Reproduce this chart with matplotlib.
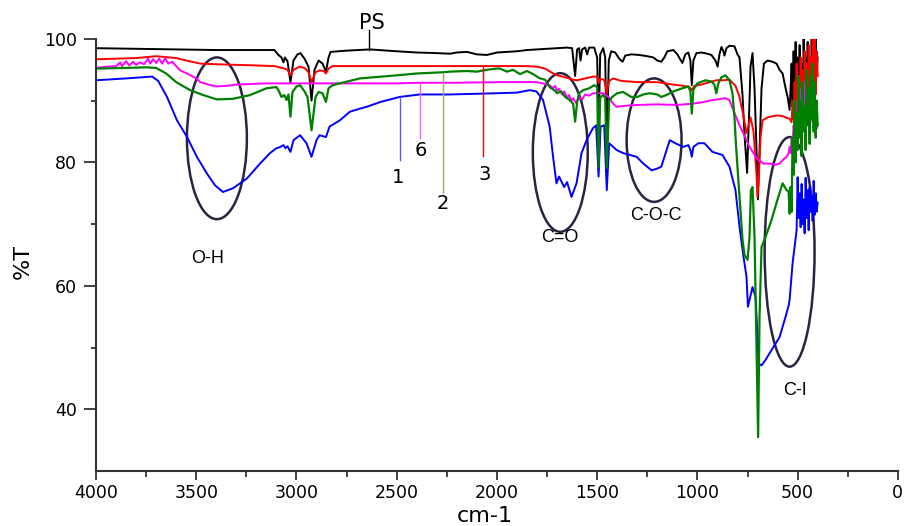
import numpy as np
import matplotlib
matplotlib.use("Agg")
from matplotlib import pyplot as plt
from matplotlib.patches import Ellipse
from matplotlib.ticker import MultipleLocator

plt.rcParams['font.family'] = ['Liberation Sans', 'DejaVu Sans']

# PS (black)
ps_wn = [4000, 3800, 3600, 3400, 3200, 3110, 3090, 3075, 3065, 3058, 3045, 3030, 3015, 2995, 2980, 2960,
         2940, 2925, 2910, 2890, 2870, 2853, 2840, 2830, 2750, 2634, 2500, 2400, 2300, 2235, 2200, 2150,
         2100, 2050, 2000, 1950, 1900, 1850, 1800, 1750, 1700, 1650, 1625, 1610, 1600, 1590, 1583, 1575,
         1560, 1550, 1540, 1515, 1500, 1493, 1485, 1470, 1460, 1452, 1442, 1430, 1410, 1390, 1373, 1360,
         1330, 1290, 1250, 1220, 1200, 1180, 1165, 1150, 1120, 1100, 1075, 1060, 1045, 1035, 1028, 1020,
         1005, 980, 950, 930, 910, 899, 890, 880, 870, 865, 855, 840, 815, 800, 790, 775, 765, 752, 742,
         735, 725, 715, 705, 698, 690, 680, 668, 650, 625, 605, 590, 575, 560, 550, 540,
         535, 530, 525, 520, 515, 510, 505, 500, 495, 490, 485, 480, 475, 470, 465, 460, 455, 450, 445,
         440, 435, 430, 425, 420, 415, 410, 405, 400]
ps_t = [98.5, 98.4, 98.3, 98.2, 98.2, 98.2, 97.4, 97.0, 96.2, 97.0, 96.4, 93.0, 96.5, 97.5, 97.7, 96.8,
        95.5, 90.0, 95.0, 96.5, 96.0, 94.7, 97.0, 97.9, 98.1, 98.3, 98.0, 97.8, 97.7, 97.6, 97.8, 97.9,
        97.5, 97.4, 97.8, 97.9, 98.0, 98.2, 98.3, 98.4, 98.5, 98.6, 98.5, 94.0, 98.3, 98.5, 96.5, 98.3,
        98.6, 97.5, 98.6, 98.6, 97.0, 84.0, 97.5, 98.5, 97.0, 82.0, 96.5, 98.0, 97.8, 96.8, 96.3, 97.3,
        97.5, 97.4, 97.2, 97.0, 96.5, 96.3, 97.0, 98.0, 98.2, 97.5, 96.1, 97.5, 97.8, 96.5, 92.5, 96.5,
        97.7, 97.8, 97.6, 97.4, 96.5, 95.5, 97.5, 98.7, 98.0, 97.3, 98.5, 98.9, 98.8, 97.5, 97.0, 91.0,
        84.5, 78.3, 88.0, 95.5, 97.7, 92.0, 82.0, 74.0, 82.0, 92.0, 96.0, 96.5, 96.3, 96.0, 95.0, 94.4,
        92.0, 90.6, 88.5,
        92, 96, 89, 98, 90, 99.5, 91, 97, 89, 99, 92, 96, 88.5, 100, 93, 97, 90, 99.5, 92,
        96, 89, 100, 93, 98, 91, 100, 94, 97]

# sample 3 (red)
s3_wn = [4000, 3800, 3700, 3600, 3550, 3480, 3400, 3200, 3110, 3085, 3060, 3045, 3030, 3015, 2985, 2960,
         2940, 2925, 2905, 2885, 2865, 2853, 2840, 2820, 2600, 2070, 1850, 1800, 1760, 1730, 1700, 1660,
         1620, 1600, 1560, 1520, 1500, 1493, 1485, 1465, 1452, 1440, 1420, 1380, 1300, 1200, 1120, 1070,
         1040, 1028, 1015, 980, 940, 905, 870, 840, 810, 790, 770, 755, 745, 735, 720, 705, 700, 693, 685,
         675, 650, 620, 600, 575, 555, 540, 530,
         525, 520, 515, 510, 505, 500, 495, 490, 485, 480, 475, 470, 465, 460, 455, 450, 445, 440, 435,
         430, 425, 420, 415, 410, 405, 400]
s3_t = [96.7, 96.9, 97.2, 96.9, 96.5, 96.0, 95.9, 95.7, 95.6, 95.4, 95.2, 95.0, 94.1, 95.0, 95.5, 95.3,
        94.6, 93.0, 94.6, 94.9, 94.8, 94.4, 95.2, 95.6, 95.6, 95.6, 95.6, 95.5, 95.2, 94.6, 94.1, 93.8,
        93.4, 93.3, 93.6, 93.9, 93.9, 92.8, 93.5, 93.4, 91.2, 93.2, 93.6, 93.2, 93.0, 93.0, 92.6, 92.4,
        92.2, 91.7, 92.4, 92.6, 93.0, 93.3, 93.3, 93.4, 92.4, 90.6, 87.5, 84.7, 86.0, 87.3, 85.0, 78.0,
        74.4, 78.0, 84.0, 86.8, 87.3, 87.5, 87.6, 87.5, 87.2, 87.1, 86.5,
        90, 87, 93, 88, 96, 89, 94, 88.5, 97, 90, 95, 88, 98, 91, 96, 89, 99, 92, 97,
        90, 100, 93, 100, 91, 98, 94]

# sample 6 (magenta)
s6_wn = [4000, 3950, 3900, 3880, 3870, 3850, 3835, 3815, 3800, 3780, 3760, 3740, 3730, 3715, 3700, 3685,
         3670, 3655, 3640, 3620, 3600, 3580, 3540, 3500, 3480, 3440, 3400, 3350, 3300, 3150, 3030, 2500,
         2385, 2200, 2000, 1850, 1800, 1760, 1737, 1720, 1710, 1700, 1690, 1675, 1665, 1650, 1640, 1630,
         1620, 1605, 1590, 1575, 1560, 1540, 1520, 1500, 1470, 1440, 1420, 1403, 1350, 1300, 1200, 1100,
         1030, 980, 940, 900, 860, 840, 815, 790, 775, 755, 740, 720, 700, 670, 640, 610, 590, 570, 555, 545,
         540, 535, 530, 525, 520, 515, 510, 505, 500, 495, 490, 485, 480, 475, 470, 465, 460, 455, 450,
         445, 440, 435, 430, 425, 420, 415, 410, 405, 400]
s6_t = [95.3, 95.5, 95.6, 96.2, 95.6, 96.4, 95.7, 96.3, 95.8, 96.2, 95.9, 96.8, 96.0, 96.7, 96.1, 96.8,
        96.0, 96.9, 96.0, 96.3, 95.6, 94.9, 94.3, 93.6, 93.0, 92.6, 92.3, 92.4, 92.6, 92.8, 92.8, 92.8,
        92.9, 92.9, 93.0, 93.0, 93.0, 92.7, 92.5, 92.0, 92.4, 91.6, 91.9, 91.0, 91.5, 90.5, 90.9, 90.0,
        90.4, 89.6, 90.6, 90.2, 91.0, 90.8, 91.2, 91.2, 91.2, 90.5, 89.5, 89.0, 89.2, 89.3, 89.4, 89.3,
        89.5, 89.7, 90.0, 90.2, 90.4, 90.1, 88.0, 86.0, 85.0, 83.6, 82.5, 81.5, 80.5, 79.8, 79.8, 79.6,
        79.8, 80.5, 80.9, 81.5,
        82.5, 81.5, 84, 83, 86, 84.5, 88, 86, 90, 87, 91.5, 88, 92, 89, 93, 88.5, 92.5, 89, 92,
        88, 91, 87.5, 90, 86.5, 89, 86, 88, 85.5, 86]

# sample 2 (green)
s2_wn = [4000, 3850, 3750, 3700, 3650, 3600, 3531, 3465, 3397, 3317, 3232, 3150, 3100,
         3090, 3075, 3060, 3050, 3040, 3030, 3020, 3000, 2982, 2960, 2945, 2925, 2905, 2890, 2870, 2853,
         2840, 2820, 2784, 2684, 2500, 2400, 2270, 2235, 2150, 2100, 2050, 2000, 1985, 1950, 1920, 1885,
         1850, 1820, 1785, 1760, 1737, 1710, 1700, 1680, 1660, 1637, 1620, 1610, 1600, 1590, 1570, 1540,
         1515, 1500, 1493, 1485, 1470, 1460, 1452, 1440, 1425, 1400, 1370, 1330, 1300, 1270, 1238, 1200,
         1180, 1155, 1120, 1075, 1045, 1035, 1028, 1020, 1000, 960, 930, 915, 906, 895, 880, 860, 840, 825,
         815, 808, 790, 775, 765, 750, 740, 733, 725, 715, 705, 697, 690, 680, 660, 630, 600, 575, 555, 545,
         540, 535, 530, 525, 520, 515, 510, 505, 500, 495, 490, 485, 480, 475, 470, 465, 460, 455, 450,
         445, 440, 435, 430, 425, 420, 415, 410, 405, 400]
s2_t = [95.2, 95.3, 95.4, 95.3, 94.4, 93.0, 91.7, 90.9, 90.2, 90.3, 90.9, 92.0, 92.2,
        91.7, 90.6, 90.9, 90.1, 91.0, 87.4, 91.4, 92.3, 92.5, 91.5, 90.6, 85.2, 90.6, 91.4, 91.2, 89.8,
        92.0, 92.5, 92.8, 93.6, 94.1, 94.4, 94.6, 94.7, 94.8, 94.7, 95.0, 95.2, 95.2, 94.7, 95.0, 94.3,
        94.8, 94.3, 93.6, 93.4, 92.2, 91.6, 91.2, 91.5, 90.6, 90.1, 89.5, 86.6, 89.8, 91.2, 91.7, 92.0,
        92.5, 92.2, 79.3, 90.5, 90.9, 90.5, 79.1, 90.0, 90.6, 91.2, 91.4, 90.6, 90.6, 91.0, 91.2, 91.0,
        90.6, 90.9, 91.5, 92.0, 92.3, 91.5, 87.9, 91.8, 92.8, 93.3, 93.1, 92.6, 91.2, 92.8, 93.8, 94.1,
        93.3, 91.2, 87.3, 83.1, 74.4, 67.5, 65.0, 64.2, 67.9, 75.5, 76.0, 68.0, 50.0, 35.5, 55.0, 66.3,
        67.9, 70.7, 74.0, 76.6, 75.5, 75.3,
        71.7, 76, 72, 84, 78, 90, 80, 88, 82, 94, 84, 90, 81, 93, 85, 89, 82, 95, 86,
        92, 83, 94, 87, 96, 85, 93, 84, 90, 86]

# sample 1 (blue)
s1_wn = [4000, 3850, 3720, 3690, 3646, 3596, 3546, 3497, 3447, 3407, 3367, 3317, 3247, 3182, 3132, 3100,
         3080, 3065, 3055, 3045, 3030, 3015, 2982, 2950, 2925, 2900, 2885, 2853, 2835, 2784, 2734, 2684,
         2650, 2580, 2485, 2385, 2235, 2000, 1900, 1837, 1803, 1770, 1737, 1720, 1703, 1690, 1665, 1650,
         1628, 1603, 1578, 1553, 1522, 1505, 1493, 1483, 1465, 1452, 1440, 1420, 1403, 1370, 1303, 1270,
         1228, 1200, 1180, 1138, 1110, 1070, 1045, 1035, 1028, 1020, 995, 965, 925, 875, 840, 810, 790,
         770, 755, 748, 740, 725, 710, 700, 695, 680, 660, 630, 590, 560, 545, 540, 525, 505,
         500, 495, 490, 485, 480, 475, 470, 465, 460, 455, 450, 445, 440, 435, 430, 425, 420, 415, 410,
         405, 400]
s1_t = [93.3, 93.6, 93.9, 93.2, 90.6, 86.8, 84.1, 80.9, 78.2, 76.3, 75.2, 75.8, 77.4, 79.8, 81.5, 82.3,
        82.5, 82.8, 82.3, 82.6, 81.7, 83.6, 84.4, 83.1, 80.9, 83.6, 84.4, 84.1, 85.8, 86.8, 88.2, 88.7,
        89.0, 89.8, 90.6, 91.0, 91.0, 91.2, 91.3, 91.7, 91.5, 90.1, 85.8, 80.9, 76.6, 77.7, 76.0, 76.8,
        74.4, 76.6, 81.5, 83.6, 85.5, 86.0, 77.7, 85.8, 86.0, 75.5, 83.1, 82.5, 82.0, 81.5, 80.9, 79.8,
        78.7, 79.0, 79.3, 83.6, 83.1, 82.5, 82.8, 82.0, 80.9, 82.5, 83.1, 83.1, 81.7, 81.2, 79.3, 75.5,
        69.6, 64.7, 61.5, 56.6, 57.7, 59.8, 58.2, 52.0, 47.4, 47.1, 48.0, 49.6, 51.7, 55.0, 56.8, 57.7,
        63.7, 69.0,
        77.6, 71, 75, 69.5, 76.5, 70, 74, 68.5, 77.5, 71, 75.5, 69, 76, 72, 74.5, 70.5, 77, 71.5, 75,
        72, 73.5]

fig = plt.figure(figsize=(9.06, 5.26), dpi=100)
ax = fig.add_axes([0.106, 0.1046, 0.885, 0.8214])

lw = 1.4
ax.plot(ps_wn, ps_t, color='black', lw=lw)
ax.plot(s3_wn, s3_t, color='#ff0000', lw=lw)
ax.plot(s6_wn, s6_t, color='#ff00ff', lw=lw)
ax.plot(s1_wn, s1_t, color='#0000ff', lw=lw)
ax.plot(s2_wn, s2_t, color='#008000', lw=1.6)

ax.set_xlim(4000, 0)
ax.set_ylim(30, 100)

# curve labels with leader lines
lab_font = ['DejaVu Sans']
ax.plot([2639, 2639], [98.2, 101.4], color='black', lw=1, clip_on=False)
ax.text(2624, 102.5, 'PS', fontsize=15, ha='center', va='center', family=lab_font)
ax.plot([2485, 2485], [80.4, 90.6], color='#5a5aff', lw=1)
ax.text(2495, 77.6, '1', fontsize=14, ha='center', va='center', family=lab_font)
ax.plot([2385, 2385], [83.9, 92.8], color='#ff55ff', lw=1)
ax.text(2380, 81.9, '6', fontsize=14, ha='center', va='center', family=lab_font)
ax.plot([2270, 2270], [75.0, 94.5], color='#a8a860', lw=1)
ax.text(2270, 73.4, '2', fontsize=14, ha='center', va='center', family=lab_font)
ax.plot([2070, 2070], [81.1, 95.6], color='#ff0000', lw=1)
ax.text(2061, 78.1, '3', fontsize=14, ha='center', va='center', family=lab_font)

# band ellipses
ell_col = '#2b2341'
for (cx, cy, w, h) in [(3397, 83.9, 299, 26.2), (1684, 81.6, 274, 25.7),
                       (1216, 83.6, 274, 20.0), (540, 65.5, 249, 37.2)]:
    ax.add_patch(Ellipse((cx, cy), w, h, fill=False, edgecolor=ell_col, lw=1.8, clip_on=False))

ax.text(3442, 64.5, 'O-H', fontsize=13, ha='center', va='center')
ax.text(1687, 67.9, 'C=O', fontsize=13, ha='center', va='center')
ax.text(1208, 71.4, 'C-O-C', fontsize=13, ha='center', va='center')
ax.text(515, 43.0, 'C-I', fontsize=13, ha='center', va='center')

for s in ['top', 'right']:
    ax.spines[s].set_visible(False)
for s in ['left', 'bottom']:
    ax.spines[s].set_linewidth(1.5)
    ax.spines[s].set_color('#333333')

ax.xaxis.set_major_locator(MultipleLocator(500))
ax.xaxis.set_minor_locator(MultipleLocator(250))
ax.set_yticks([40, 60, 80, 100])
ax.set_yticks([50, 70, 90], minor=True)
ax.tick_params(axis='x', which='major', length=6.5, width=1.3, color='#333333', labelsize=12.5, pad=3)
ax.tick_params(axis='x', which='minor', length=4, width=1.3, color='#333333')
ax.tick_params(axis='y', which='major', length=8.5, width=1.3, color='#333333', labelsize=12.5, pad=5)
ax.tick_params(axis='y', which='minor', length=3.6, width=1.3, color='#333333')
for lbl in ax.get_xticklabels() + ax.get_yticklabels():
    lbl.set_family('DejaVu Sans')

fig.text(23 / 906, 1 - 262 / 526, '%T', fontsize=16, rotation=90, ha='center', va='center',
         family='DejaVu Sans')
fig.text(485 / 906, 1 - 522 / 526, 'cm-1', fontsize=16, ha='center', va='baseline',
         family='DejaVu Sans')

fig.savefig('out.png', dpi=100)
